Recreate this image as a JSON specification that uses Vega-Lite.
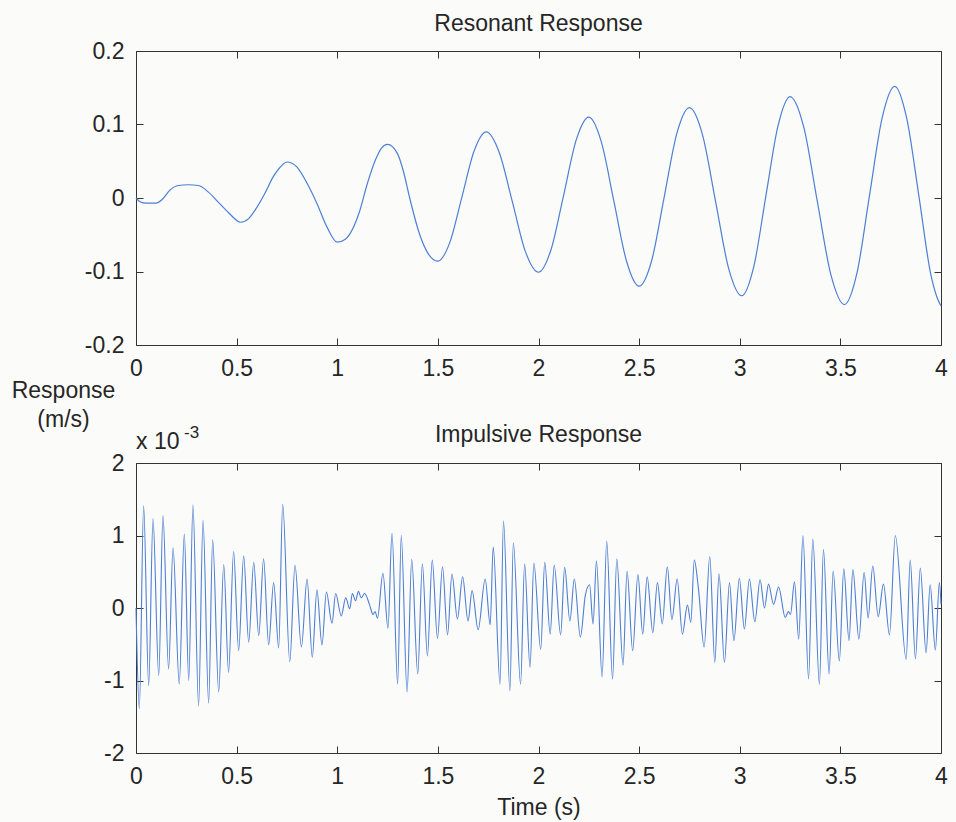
{
"$schema": "https://vega.github.io/schema/vega-lite/v6.json",
"background": "#fbfbf9",
"padding": {"left": 10, "top": 12, "right": 10, "bottom": 8},
"bounds": "flush",
"spacing": 118,
"config": {
  "font": "Liberation Sans",
  "view": {"stroke": "#333333", "strokeWidth": 1},
  "axis": {"grid": false, "domain": false, "tickSize": -7, "tickColor": "#333333", "labelFlush": false, "labelOverlap": false, "labelFont": "Liberation Sans", "labelFontSize": 23, "labelColor": "#262626", "labelPadding": 19, "titleFont": "Liberation Sans", "titleFontSize": 23, "titleFontWeight": "normal", "titleColor": "#262626"},
  "title": {"font": "Liberation Sans", "fontSize": 23, "fontWeight": "normal", "color": "#262626", "baseline": "alphabetic", "anchor": "middle", "frame": "group"}
},
"datasets": {
"resonant": [
{"t":0,"v":0},{"t":0.02,"v":-0.005},{"t":0.05,"v":-0.007},{"t":0.1,"v":-0.007},{"t":0.13,"v":-0.002},{"t":0.17,"v":0.011},{"t":0.21,"v":0.017},{"t":0.26,"v":0.018},{"t":0.31,"v":0.017},{"t":0.36,"v":0.008},{"t":0.41,"v":-0.006},{"t":0.46,"v":-0.02},{"t":0.52,"v":-0.033},{"t":0.56,"v":-0.028},{"t":0.6,"v":-0.013},{"t":0.64,"v":0.006},{"t":0.68,"v":0.028},{"t":0.72,"v":0.043},{"t":0.75,"v":0.049},{"t":0.8,"v":0.042},{"t":0.85,"v":0.02},{"t":0.9,"v":-0.008},{"t":0.95,"v":-0.04},{"t":1.0,"v":-0.06},{"t":1.04,"v":-0.056},{"t":1.11,"v":-0.019},{"t":1.15,"v":0.02},{"t":1.19,"v":0.052},{"t":1.22,"v":0.068},{"t":1.25,"v":0.073},{"t":1.3,"v":0.06},{"t":1.33,"v":0.035},{"t":1.36,"v":0.0},{"t":1.41,"v":-0.05},{"t":1.45,"v":-0.075},{"t":1.5,"v":-0.086},{"t":1.56,"v":-0.06},{"t":1.62,"v":0.002},{"t":1.68,"v":0.064},{"t":1.74,"v":0.09},{"t":1.805,"v":0.062},{"t":1.87,"v":-0.005},{"t":1.935,"v":-0.073},{"t":2.0,"v":-0.101},{"t":2.0625,"v":-0.07},{"t":2.125,"v":0.004},{"t":2.1875,"v":0.079},{"t":2.25,"v":0.11},{"t":2.3125,"v":0.076},{"t":2.375,"v":-0.005},{"t":2.4375,"v":-0.086},{"t":2.5,"v":-0.12},{"t":2.5625,"v":-0.085},{"t":2.625,"v":0.002},{"t":2.6875,"v":0.088},{"t":2.75,"v":0.123},{"t":2.815,"v":0.086},{"t":2.88,"v":-0.005},{"t":2.945,"v":-0.096},{"t":3.01,"v":-0.133},{"t":3.07,"v":-0.093},{"t":3.13,"v":0.003},{"t":3.19,"v":0.098},{"t":3.25,"v":0.138},{"t":3.3175,"v":0.097},{"t":3.385,"v":-0.004},{"t":3.4525,"v":-0.104},{"t":3.52,"v":-0.145},{"t":3.5825,"v":-0.102},{"t":3.645,"v":0.004},{"t":3.7075,"v":0.109},{"t":3.77,"v":0.152},{"t":3.83,"v":0.108},{"t":3.89,"v":0.003},{"t":3.95,"v":-0.105},{"t":3.98,"v":-0.135},{"t":4.0,"v":-0.147}
],
"impulsive": [
{"t":0,"v":0},{"t":0.0166,"v":-1.39},{"t":0.038,"v":1.41},{"t":0.063,"v":-1.07},{"t":0.0845,"v":1.23},{"t":0.113,"v":-0.93},{"t":0.134,"v":1.27},{"t":0.162,"v":-0.84},{"t":0.184,"v":0.83},{"t":0.215,"v":-1.05},{"t":0.24,"v":1.02},{"t":0.262,"v":-1.0},{"t":0.283,"v":1.42},{"t":0.311,"v":-1.35},{"t":0.333,"v":1.21},{"t":0.361,"v":-1.31},{"t":0.381,"v":0.94},{"t":0.411,"v":-1.16},{"t":0.436,"v":0.6},{"t":0.46,"v":-0.89},{"t":0.485,"v":0.78},{"t":0.51,"v":-0.59},{"t":0.535,"v":0.72},{"t":0.56,"v":-0.47},{"t":0.585,"v":0.63},{"t":0.61,"v":-0.38},{"t":0.634,"v":0.68},{"t":0.659,"v":-0.51},{"t":0.684,"v":0.35},{"t":0.709,"v":-0.55},{"t":0.729,"v":1.43},{"t":0.764,"v":-0.74},{"t":0.79,"v":0.59},{"t":0.822,"v":-0.54},{"t":0.85,"v":0.4},{"t":0.876,"v":-0.68},{"t":0.899,"v":0.25},{"t":0.924,"v":-0.51},{"t":0.946,"v":0.22},{"t":0.974,"v":-0.21},{"t":0.992,"v":0.2},{"t":1.02,"v":-0.11},{"t":1.042,"v":0.14},{"t":1.062,"v":-0.01},{"t":1.075,"v":0.2},{"t":1.091,"v":0.1},{"t":1.105,"v":0.23},{"t":1.119,"v":0.14},{"t":1.136,"v":0.2},{"t":1.16,"v":0.05},{"t":1.178,"v":-0.09},{"t":1.188,"v":-0.05},{"t":1.2,"v":-0.14},{"t":1.227,"v":0.48},{"t":1.252,"v":-0.28},{"t":1.272,"v":1.03},{"t":1.3,"v":-1.05},{"t":1.318,"v":1.0},{"t":1.347,"v":-1.16},{"t":1.37,"v":0.67},{"t":1.4,"v":-0.91},{"t":1.423,"v":0.61},{"t":1.448,"v":-0.66},{"t":1.472,"v":0.66},{"t":1.498,"v":-0.42},{"t":1.523,"v":0.57},{"t":1.548,"v":-0.37},{"t":1.57,"v":0.47},{"t":1.597,"v":-0.15},{"t":1.623,"v":0.43},{"t":1.65,"v":-0.18},{"t":1.67,"v":0.24},{"t":1.7,"v":-0.3},{"t":1.735,"v":0.4},{"t":1.76,"v":-0.23},{"t":1.775,"v":0.84},{"t":1.809,"v":-1.05},{"t":1.826,"v":1.2},{"t":1.858,"v":-1.14},{"t":1.875,"v":0.9},{"t":1.911,"v":-1.05},{"t":1.931,"v":0.61},{"t":1.958,"v":-0.82},{"t":1.977,"v":0.62},{"t":2.011,"v":-0.57},{"t":2.031,"v":0.63},{"t":2.058,"v":-0.36},{"t":2.078,"v":0.59},{"t":2.11,"v":-0.37},{"t":2.13,"v":0.56},{"t":2.156,"v":-0.18},{"t":2.178,"v":0.4},{"t":2.208,"v":-0.4},{"t":2.233,"v":0.18},{"t":2.254,"v":0.32},{"t":2.271,"v":-0.22},{"t":2.288,"v":0.65},{"t":2.316,"v":-0.95},{"t":2.339,"v":0.92},{"t":2.368,"v":-0.98},{"t":2.389,"v":0.68},{"t":2.42,"v":-0.79},{"t":2.44,"v":0.51},{"t":2.468,"v":-0.59},{"t":2.494,"v":0.46},{"t":2.518,"v":-0.36},{"t":2.54,"v":0.43},{"t":2.568,"v":-0.34},{"t":2.591,"v":0.35},{"t":2.615,"v":-0.22},{"t":2.64,"v":0.57},{"t":2.663,"v":-0.16},{"t":2.689,"v":0.4},{"t":2.715,"v":-0.36},{"t":2.74,"v":0.04},{"t":2.757,"v":-0.2},{"t":2.774,"v":0.66},{"t":2.795,"v":0.26},{"t":2.823,"v":-0.54},{"t":2.851,"v":0.71},{"t":2.876,"v":-0.75},{"t":2.897,"v":0.47},{"t":2.924,"v":-0.75},{"t":2.949,"v":0.35},{"t":2.971,"v":-0.45},{"t":2.998,"v":0.41},{"t":3.023,"v":-0.29},{"t":3.048,"v":0.4},{"t":3.075,"v":-0.19},{"t":3.101,"v":0.39},{"t":3.123,"v":0.0},{"t":3.143,"v":0.33},{"t":3.168,"v":0.05},{"t":3.193,"v":0.29},{"t":3.226,"v":-0.13},{"t":3.242,"v":-0.05},{"t":3.252,"v":-0.09},{"t":3.272,"v":0.36},{"t":3.293,"v":-0.43},{"t":3.314,"v":1.0},{"t":3.342,"v":-0.98},{"t":3.363,"v":0.95},{"t":3.396,"v":-1.05},{"t":3.416,"v":0.81},{"t":3.444,"v":-0.91},{"t":3.464,"v":0.51},{"t":3.495,"v":-0.73},{"t":3.517,"v":0.54},{"t":3.543,"v":-0.45},{"t":3.562,"v":0.53},{"t":3.592,"v":-0.43},{"t":3.618,"v":0.49},{"t":3.638,"v":-0.14},{"t":3.661,"v":0.58},{"t":3.688,"v":-0.12},{"t":3.714,"v":0.33},{"t":3.744,"v":-0.37},{"t":3.773,"v":1.0},{"t":3.827,"v":-0.71},{"t":3.847,"v":0.66},{"t":3.873,"v":-0.7},{"t":3.897,"v":0.55},{"t":3.926,"v":-0.62},{"t":3.946,"v":0.32},{"t":3.972,"v":-0.58},{"t":3.992,"v":0.35},{"t":4.0,"v":0.05}
]
},
"vconcat": [
{
  "title": {"text": "Resonant Response", "offset": 4},
  "width": 805,
  "height": 294,
  "data": {"name": "resonant"},
  "layer": [
    {
      "mark": {"type": "line", "interpolate": "monotone", "color": "#4d7fd4", "strokeWidth": 1.2},
      "encoding": {
        "x": {"field": "t", "type": "quantitative", "scale": {"domain": [0, 4], "nice": false, "zero": false},
              "axis": {"orient": "bottom", "values": [0, 0.5, 1, 1.5, 2, 2.5, 3, 3.5, 4], "labelExpr": "datum.value + ''",
                       "title": ["Response", "(m/s)"], "titleAngle": 0, "titleAlign": "center", "titleBaseline": "alphabetic",
                       "titleX": -73, "titleY": 52, "titleLineHeight": 29}},
        "y": {"field": "v", "type": "quantitative", "scale": {"domain": [-0.2, 0.2], "nice": false, "zero": false},
              "axis": {"orient": "left", "values": [-0.2, -0.1, 0, 0.1, 0.2], "labelExpr": "datum.value + ''", "title": null}}
      }
    },
    {
      "mark": {"type": "line", "opacity": 0},
      "encoding": {
        "x": {"field": "t", "type": "quantitative", "axis": {"orient": "top", "values": [0, 0.5, 1, 1.5, 2, 2.5, 3, 3.5, 4], "labels": false, "title": null}},
        "y": {"field": "v", "type": "quantitative", "axis": {"orient": "right", "values": [-0.2, -0.1, 0, 0.1, 0.2], "labels": false, "title": null}}
      }
    }
  ],
  "resolve": {"axis": {"x": "independent", "y": "independent"}}
},
{
  "title": {"text": "Impulsive Response", "offset": -23},
  "width": 805,
  "height": 290,
  "data": {"name": "impulsive"},
  "layer": [
    {
      "mark": {"type": "line", "interpolate": "monotone", "color": "#4d7fd4", "strokeWidth": 1.1},
      "encoding": {
        "x": {"field": "t", "type": "quantitative", "scale": {"domain": [0, 4], "nice": false, "zero": false},
              "axis": {"orient": "bottom", "values": [0, 0.5, 1, 1.5, 2, 2.5, 3, 3.5, 4], "labelExpr": "datum.value + ''", "title": "Time (s)", "titlePadding": 8}},
        "y": {"field": "v", "type": "quantitative", "scale": {"domain": [-2, 2], "nice": false, "zero": false},
              "axis": {"orient": "left", "values": [-2, -1, 0, 1, 2], "labelExpr": "datum.value + ''", "title": null}}
      }
    },
    {
      "mark": {"type": "line", "opacity": 0},
      "encoding": {
        "x": {"field": "t", "type": "quantitative", "axis": {"orient": "top", "values": [0, 0.5, 1, 1.5, 2, 2.5, 3, 3.5, 4], "labels": false, "title": null}},
        "y": {"field": "v", "type": "quantitative", "axis": {"orient": "right", "values": [-2, -1, 0, 1, 2], "labels": false, "title": null}}
      }
    },
    {
      "data": {"values": [{}]},
      "mark": {"type": "text", "text": "x 10", "align": "left", "baseline": "alphabetic", "fontSize": 23, "dx": 0, "dy": -14, "color": "#262626"},
      "encoding": {
        "x": {"datum": 0, "type": "quantitative", "axis": null},
        "y": {"datum": 2, "type": "quantitative", "axis": null}
      }
    },
    {
      "data": {"values": [{}]},
      "mark": {"type": "text", "text": "-3", "align": "left", "baseline": "alphabetic", "fontSize": 17, "dx": 48, "dy": -25, "color": "#262626"},
      "encoding": {
        "x": {"datum": 0, "type": "quantitative", "axis": null},
        "y": {"datum": 2, "type": "quantitative", "axis": null}
      }
    }
  ],
  "resolve": {"axis": {"x": "independent", "y": "independent"}}
}
]
}
